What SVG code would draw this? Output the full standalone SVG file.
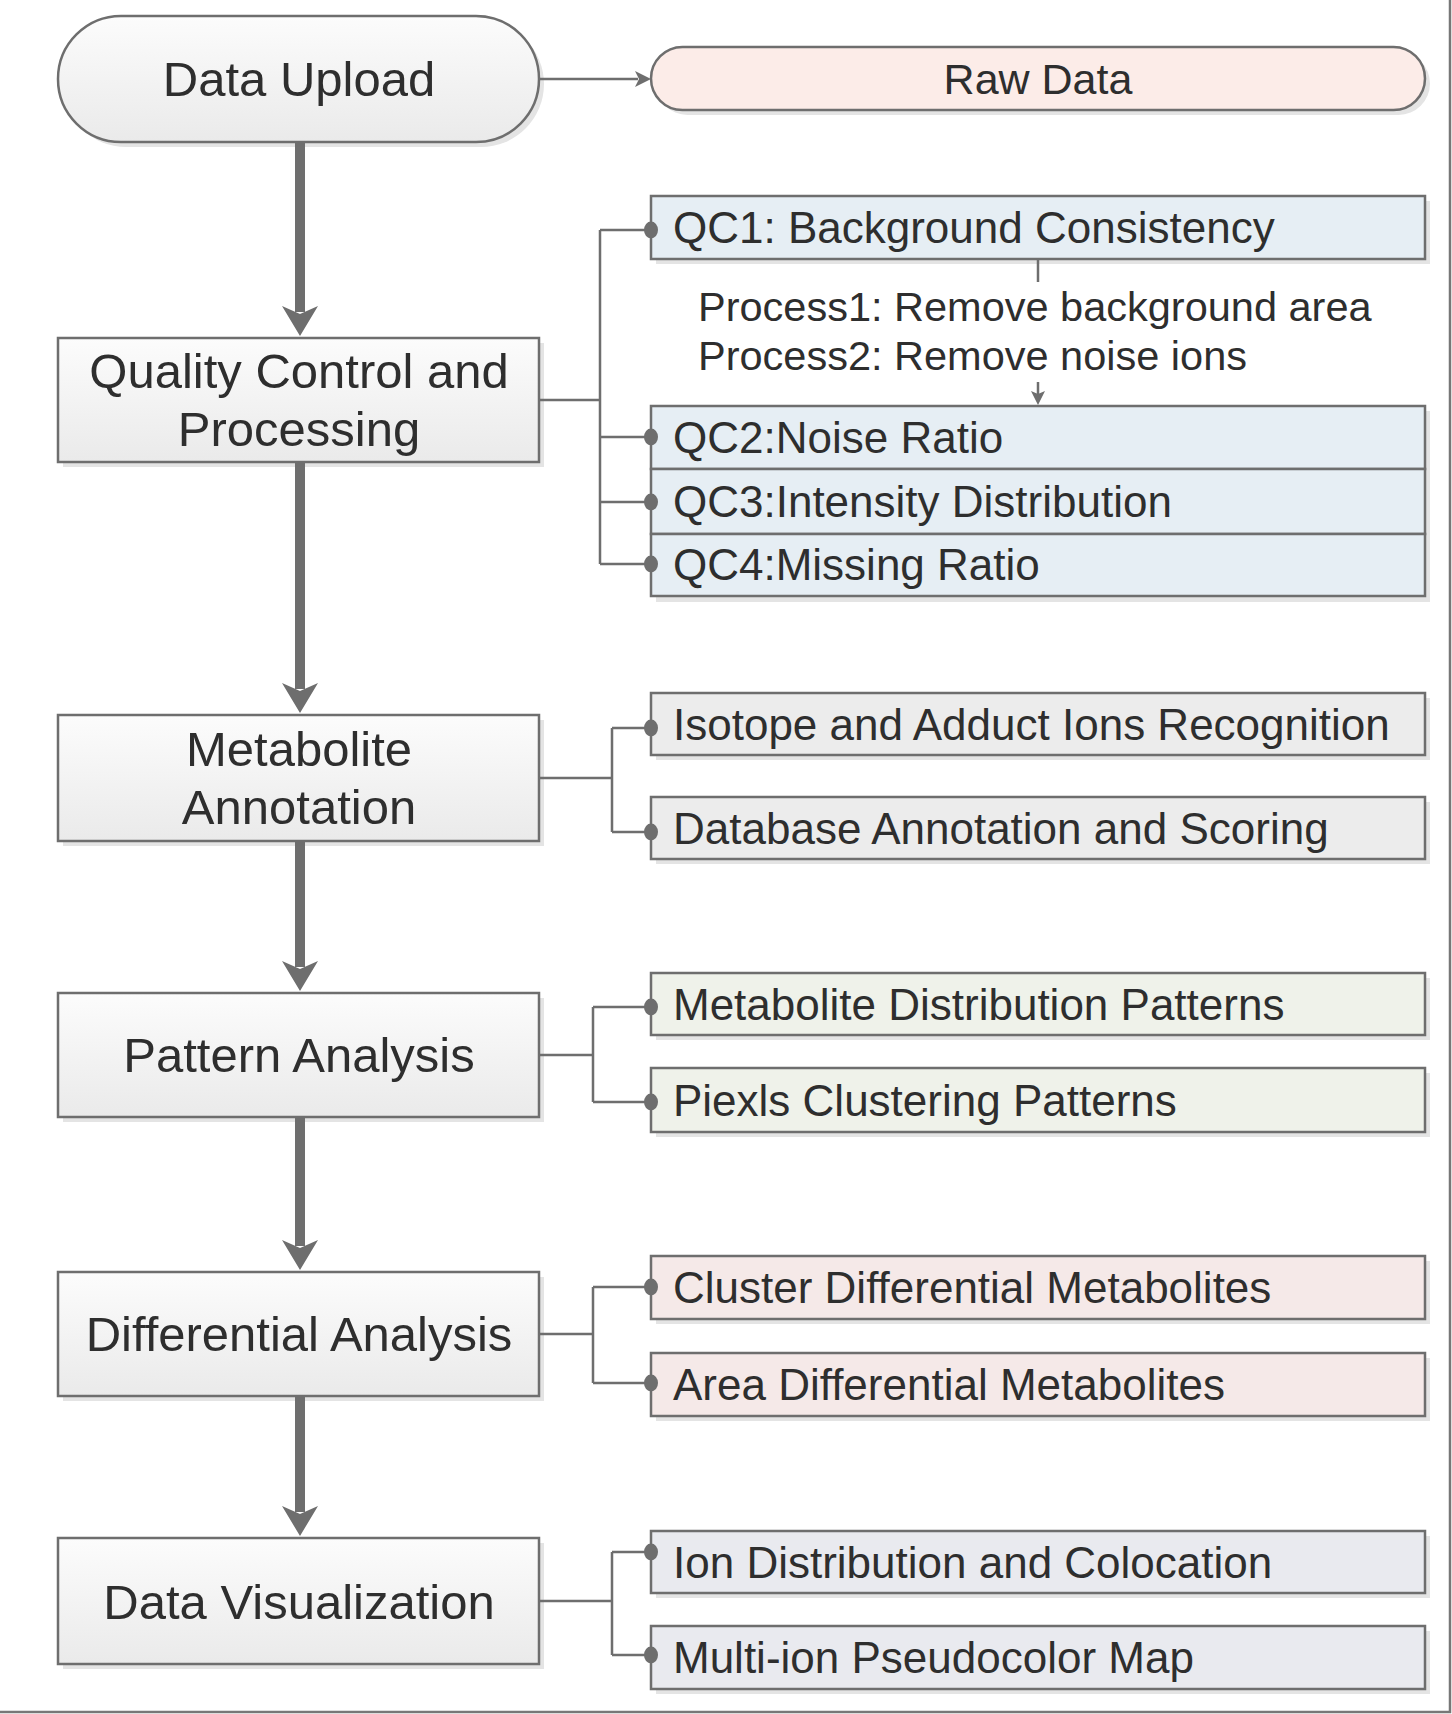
<svg xmlns="http://www.w3.org/2000/svg" width="1452" height="1714" viewBox="0 0 1452 1714">
<defs>
<linearGradient id="g" x1="0" y1="0" x2="0" y2="1">
<stop offset="0" stop-color="#fcfcfc"/>
<stop offset="1" stop-color="#eaeaea"/>
</linearGradient>
<marker id="big" markerUnits="userSpaceOnUse" viewBox="0 0 30 36" refX="6" refY="18" markerWidth="30" markerHeight="36" orient="auto">
<path d="M0,0 L30,18 L0,36 L8,18 Z" fill="#6e6e6e"/>
</marker>
<marker id="small" markerUnits="userSpaceOnUse" viewBox="0 0 16 16" refX="3" refY="8" markerWidth="16" markerHeight="16" orient="auto">
<path d="M0,0 L16,8 L0,16 L4,8 Z" fill="#6e6e6e"/>
</marker>
<marker id="tiny" markerUnits="userSpaceOnUse" viewBox="0 0 14 14" refX="3" refY="7" markerWidth="14" markerHeight="14" orient="auto">
<path d="M0,0 L14,7 L0,14 L3,7 Z" fill="#6e6e6e"/>
</marker>
</defs>
<style>
.main{fill:url(#g);stroke:#6e6e6e;stroke-width:2.5}
.sh{fill:#e4e4e4}
.sub{stroke:#6e6e6e;stroke-width:2.5}
.qc{fill:#e6eef4}
.gr{fill:#ececec}
.gn{fill:#eff2ea}
.pk{fill:#f5e9e8}
.vs{fill:#e9eaef}
.raw{fill:#fcece8}
text{font-family:"Liberation Sans",Arial,sans-serif;fill:#2e2e2e}
.lt{font-size:49px;text-anchor:middle}
.rt{font-size:44px}
.pt{font-size:41.5px}
.ln{fill:none;stroke:#6e6e6e;stroke-width:2.5}
.thick{fill:none;stroke:#6e6e6e;stroke-width:10}
.dot{fill:#6e6e6e}
</style>
<rect width="1452" height="1714" fill="#ffffff"/>
<path d="M1450,0 V1712 H0" fill="none" stroke="#777777" stroke-width="2.5"/>

<g id="node-data-upload">
<rect class="sh" x="63" y="21" width="481" height="126" rx="63"/>
<rect class="main" x="58" y="16" width="481" height="126" rx="63"/>
<text class="lt" x="299" y="96">Data Upload</text>
</g>
<g id="node-raw-data">
<rect class="sh" x="656" y="52" width="774" height="63" rx="31.5"/>
<rect class="sub raw" x="651" y="47" width="774" height="63" rx="31.5"/>
<text x="1038" y="94" font-size="43" text-anchor="middle">Raw Data</text>
</g>

<g id="node-qc">
<rect class="sh" x="63" y="343" width="481" height="124"/>
<rect class="main" x="58" y="338" width="481" height="124"/>
<text class="lt" x="299" y="388">Quality Control and</text>
<text class="lt" x="299" y="446">Processing</text>
</g>
<g id="node-annotation">
<rect class="sh" x="63" y="720" width="481" height="126"/>
<rect class="main" x="58" y="715" width="481" height="126"/>
<text class="lt" x="299" y="766">Metabolite</text>
<text class="lt" x="299" y="824">Annotation</text>
</g>
<g id="node-pattern">
<rect class="sh" x="63" y="998" width="481" height="124"/>
<rect class="main" x="58" y="993" width="481" height="124"/>
<text class="lt" x="299" y="1072">Pattern Analysis</text>
</g>
<g id="node-differential">
<rect class="sh" x="63" y="1277" width="481" height="124"/>
<rect class="main" x="58" y="1272" width="481" height="124"/>
<text class="lt" x="299" y="1351">Differential Analysis</text>
</g>
<g id="node-visualization">
<rect class="sh" x="63" y="1543" width="481" height="126"/>
<rect class="main" x="58" y="1538" width="481" height="126"/>
<text class="lt" x="299" y="1619">Data Visualization</text>
</g>

<g id="node-qc1">
<rect class="sh" x="656" y="201" width="774" height="63"/>
<rect class="sub qc" x="651" y="196" width="774" height="63"/>
<text class="rt" x="673" y="243">QC1: Background Consistency</text>
</g>
<g id="node-process-label">
<text class="pt" x="698" y="321">Process1: Remove background area</text>
<text class="pt" x="698" y="370">Process2: Remove noise ions</text>
</g>
<g id="node-qc-stack-shadow">
<rect class="sh" x="656" y="411" width="774" height="191"/>
</g>
<g id="node-qc2">
<rect class="sub qc" x="651" y="406" width="774" height="63"/>
<text class="rt" x="673" y="453">QC2:Noise Ratio</text>
</g>
<g id="node-qc3">
<rect class="sub qc" x="651" y="469" width="774" height="65"/>
<text class="rt" x="673" y="517">QC3:Intensity Distribution</text>
</g>
<g id="node-qc4">
<rect class="sub qc" x="651" y="534" width="774" height="62"/>
<text class="rt" x="673" y="580">QC4:Missing Ratio</text>
</g>

<g id="node-isotope">
<rect class="sh" x="656" y="698" width="774" height="62"/>
<rect class="sub gr" x="651" y="693" width="774" height="62"/>
<text class="rt" x="673" y="740">Isotope and Adduct Ions Recognition</text>
</g>
<g id="node-database">
<rect class="sh" x="656" y="802" width="774" height="62"/>
<rect class="sub gr" x="651" y="797" width="774" height="62"/>
<text class="rt" x="673" y="844">Database Annotation and Scoring</text>
</g>

<g id="node-metab-dist">
<rect class="sh" x="656" y="978" width="774" height="62"/>
<rect class="sub gn" x="651" y="973" width="774" height="62"/>
<text class="rt" x="673" y="1020">Metabolite Distribution Patterns</text>
</g>
<g id="node-pixels">
<rect class="sh" x="656" y="1073" width="774" height="64"/>
<rect class="sub gn" x="651" y="1068" width="774" height="64"/>
<text class="rt" x="673" y="1116">Piexls Clustering Patterns</text>
</g>

<g id="node-cluster-diff">
<rect class="sh" x="656" y="1261" width="774" height="63"/>
<rect class="sub pk" x="651" y="1256" width="774" height="63"/>
<text class="rt" x="673" y="1303">Cluster Differential Metabolites</text>
</g>
<g id="node-area-diff">
<rect class="sh" x="656" y="1358" width="774" height="63"/>
<rect class="sub pk" x="651" y="1353" width="774" height="63"/>
<text class="rt" x="673" y="1400">Area Differential Metabolites</text>
</g>

<g id="node-ion-dist">
<rect class="sh" x="656" y="1536" width="774" height="62"/>
<rect class="sub vs" x="651" y="1531" width="774" height="62"/>
<text class="rt" x="673" y="1578">Ion Distribution and Colocation</text>
</g>
<g id="node-multi-ion">
<rect class="sh" x="656" y="1631" width="774" height="63"/>
<rect class="sub vs" x="651" y="1626" width="774" height="63"/>
<text class="rt" x="673" y="1673">Multi-ion Pseudocolor Map</text>
</g>

<g id="connectors">
<line class="ln" x1="539" y1="79" x2="638" y2="79" marker-end="url(#small)"/>
<path class="thick" d="M300,142 V312" marker-end="url(#big)"/>
<path class="thick" d="M300,462 V689" marker-end="url(#big)"/>
<path class="thick" d="M300,841 V967" marker-end="url(#big)"/>
<path class="thick" d="M300,1117 V1246" marker-end="url(#big)"/>
<path class="thick" d="M300,1396 V1512" marker-end="url(#big)"/>

<path class="ln" d="M539,400 H600 M600,230 V564 M600,230 H651 M600,437 H651 M600,502 H651 M600,564 H651"/>
<path class="ln" d="M1038,259 V282"/>
<path class="ln" d="M1038,382 V394" marker-end="url(#tiny)"/>
<ellipse class="dot" cx="651" cy="230" rx="7" ry="8.5"/>
<ellipse class="dot" cx="651" cy="437" rx="7" ry="8.5"/>
<ellipse class="dot" cx="651" cy="502" rx="7" ry="8.5"/>
<ellipse class="dot" cx="651" cy="564" rx="7" ry="8.5"/>

<path class="ln" d="M539,778 H612 M612,728 V832 M612,728 H651 M612,832 H651"/>
<ellipse class="dot" cx="651" cy="728" rx="7" ry="8.5"/>
<ellipse class="dot" cx="651" cy="832" rx="7" ry="8.5"/>

<path class="ln" d="M539,1055 H593 M593,1007 V1102 M593,1007 H651 M593,1102 H651"/>
<ellipse class="dot" cx="651" cy="1007" rx="7" ry="8.5"/>
<ellipse class="dot" cx="651" cy="1102" rx="7" ry="8.5"/>

<path class="ln" d="M539,1334 H593 M593,1287 V1383 M593,1287 H651 M593,1383 H651"/>
<ellipse class="dot" cx="651" cy="1287" rx="7" ry="8.5"/>
<ellipse class="dot" cx="651" cy="1383" rx="7" ry="8.5"/>

<path class="ln" d="M539,1601 H612 M612,1552 V1655 M612,1552 H651 M612,1655 H651"/>
<ellipse class="dot" cx="651" cy="1552" rx="7" ry="8.5"/>
<ellipse class="dot" cx="651" cy="1655" rx="7" ry="8.5"/>
</g>
</svg>
